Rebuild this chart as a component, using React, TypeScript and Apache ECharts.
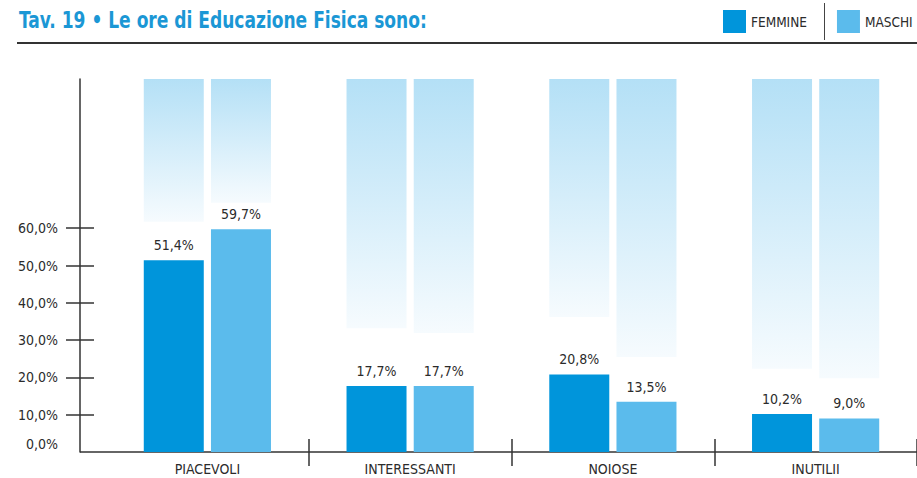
import React, { useEffect, useRef } from "react";
import * as echarts from "echarts";

const categories = ["PIACEVOLI", "INTERESSANTI", "NOIOSE", "INUTILII"];
const femmine = [51.4, 17.7, 20.8, 10.2];
const maschi = [59.7, 17.7, 13.5, 9.0];
// lower edge of the faded background columns (% units)
const femmineFadeStart = [61.7, 33.2, 36.2, 22.3];
const maschiFadeStart = [66.8, 31.9, 25.5, 19.8];
const yLabelValues = [0, 10, 20, 30, 40, 50, 60];
const yTickValues = [10, 20, 30, 40, 50, 60];
const TITLE = "Tav. 19 • Le ore di Educazione Fisica sono:";

const FONT = "'Liberation Sans Narrow', 'DejaVu Sans Condensed', 'Liberation Sans', sans-serif";
const C_F = "#0095db";
const C_M = "#5bbbec";
const TXT = "#2b2b2b";

const fmt = (v: number) => v.toFixed(1).replace(".", ",") + "%";

export default function App() {
  const ref = useRef<HTMLDivElement>(null);
  useEffect(() => {
    document.body.style.margin = "0";
    const chart = echarts.init(ref.current!, null, { renderer: "svg" });
    const fade = () =>
      new echarts.graphic.LinearGradient(0, 0, 0, 1, [
        { offset: 0, color: "#b4e0f6" },
        { offset: 1, color: "#f6fbfe" },
      ]);
    const mk = (name: string, stack: string, vals: number[], fadeStart: number[], color: string) => [
      {
        name,
        type: "bar",
        stack,
        barWidth: 60,
        barGap: "12%",
        itemStyle: { color },
        label: {
          show: true,
          position: "top",
          distance: 8,
          formatter: (p: any) => fmt(p.value),
          fontFamily: FONT,
          fontSize: 14,
          color: TXT,
        },
        data: vals,
      },
      {
        type: "bar",
        stack,
        silent: true,
        barWidth: 60,
        itemStyle: { color: "rgba(0,0,0,0)" },
        data: vals.map((v, i) => fadeStart[i] - v),
      },
      {
        type: "bar",
        stack,
        silent: true,
        barWidth: 60,
        itemStyle: { color: fade() },
        data: fadeStart.map((s) => 100 - s),
      },
    ];
    const yBase = {
      type: "value",
      position: "left",
      offset: 26,
      min: 0,
      max: 100,
      interval: 10,
      splitLine: { show: false },
    };
    chart.setOption({
      animation: false,
      legend: {
        data: ["FEMMINE", "MASCHI"],
        left: 723,
        top: 10,
        width: 400,
        padding: 0,
        itemWidth: 23,
        itemHeight: 23,
        itemGap: 30,
        icon: "rect",
        textStyle: { fontFamily: FONT, fontSize: 13.5, color: TXT },
      },
      graphic: [
        {
          type: "text",
          x: 19,
          y: 20,
          scaleX: 0.825,
          style: { text: TITLE, fontFamily: FONT, fontSize: 23, fontWeight: "bold", fill: "#1b97d5", verticalAlign: "middle" },
        },
        { type: "line", shape: { x1: 17, y1: 43, x2: 917, y2: 43 }, style: { stroke: "#333", lineWidth: 2 } },
        { type: "line", shape: { x1: 824.5, y1: 3, x2: 824.5, y2: 40 }, style: { stroke: "#444", lineWidth: 1 } },
        { type: "line", shape: { x1: 80, y1: 452, x2: 917, y2: 452 }, style: { stroke: "#333", lineWidth: 1.5 } },
      ],
      grid: { left: 106, width: 812, top: 79, height: 373 },
      xAxis: [
        {
          type: "category",
          data: categories,
          axisLine: { show: false },
          axisTick: { show: true, inside: false, length: 14, interval: (i: number) => i !== 0, lineStyle: { color: "#333", width: 1.5 } },
          axisLabel: { fontFamily: FONT, fontSize: 14, color: TXT, margin: 10 },
        },
        {
          type: "category",
          position: "bottom",
          data: categories,
          axisLine: { show: false },
          axisTick: { show: true, inside: true, length: 13, interval: (i: number) => i !== 0, lineStyle: { color: "#333", width: 1.5 } },
          axisLabel: { show: false },
        },
      ],
      yAxis: [
        {
          ...yBase,
          axisLine: { show: true, lineStyle: { color: "#333", width: 1.5 } },
          axisTick: { show: true, inside: false, length: 14, customValues: yTickValues, lineStyle: { color: "#333", width: 1.5 } },
          axisLabel: {
            customValues: yLabelValues,
            margin: 22,
            fontFamily: FONT,
            fontSize: 14,
            color: TXT,
            formatter: (v: number) => (v > 60 ? "" : v === 0 ? "{z|" + fmt(v) + "}" : fmt(v)),
            rich: { z: { fontFamily: FONT, fontSize: 14, color: TXT, padding: [0, 0, 16, 0] } },
          },
        },
        {
          ...yBase,
          axisLine: { show: false },
          axisTick: { show: true, inside: true, length: 14, customValues: yTickValues, lineStyle: { color: "#333", width: 1.5 } },
          axisLabel: { show: false },
        },
      ],
      series: [
        ...mk("FEMMINE", "F", femmine, femmineFadeStart, C_F),
        ...mk("MASCHI", "M", maschi, maschiFadeStart, C_M),
      ],
    });
    return () => chart.dispose();
  }, []);
  return <div ref={ref} style={{ position: "absolute", left: 0, top: 0, width: 917, height: 478 }} />;
}
